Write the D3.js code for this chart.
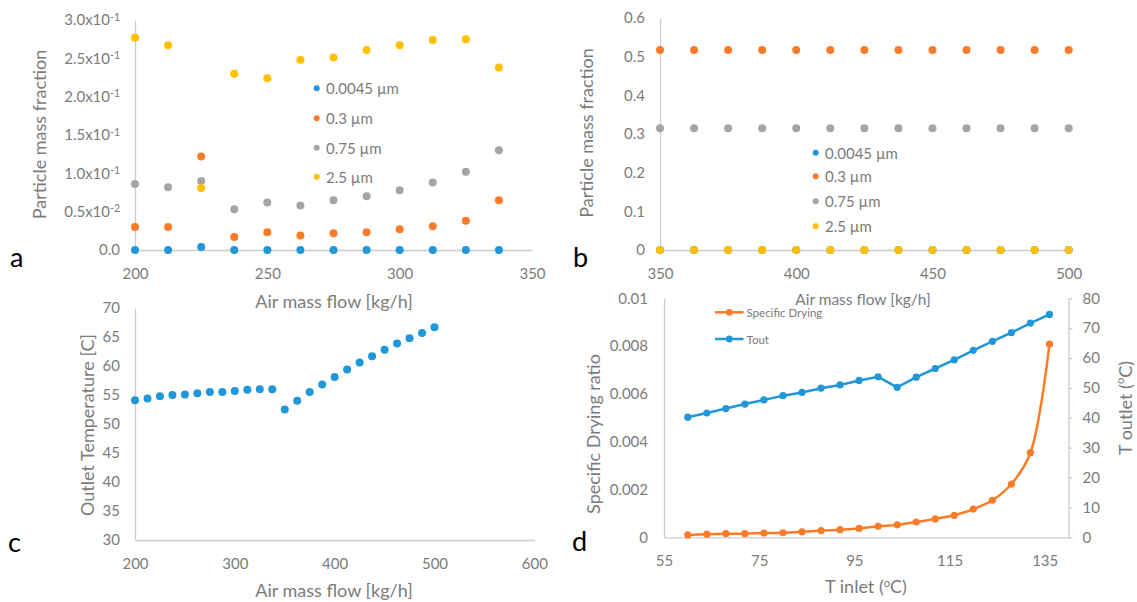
<!DOCTYPE html>
<html>
<head>
<meta charset="utf-8">
<script src="https://cdn.jsdelivr.net/npm/d3@7"></script>
<style>
  html, body { margin: 0; padding: 0; background: #ffffff; }
  svg { display: block; }
  text { font-family: Lato, "Open Sans", sans-serif; }
</style>
</head>
<body>
<svg id="chart" width="1137" height="602"></svg>
<script>
// ---------------- DATA ----------------
// Panel a
const aX = [200, 212.5, 225, 237.5, 250, 262.5, 275, 287.5, 300, 312.5, 325, 337.5];
const aBlue   = [0, 0, 0.004, 0, 0, 0, 0, 0, 0, 0, 0, 0];
const aOrange = [0.030, 0.030, 0.122, 0.017, 0.023, 0.019, 0.022, 0.023, 0.027, 0.031, 0.038, 0.065];
const aGrey   = [0.086, 0.082, 0.090, 0.053, 0.062, 0.058, 0.065, 0.070, 0.078, 0.088, 0.102, 0.130];
const aYellow = [0.277, 0.267, 0.081, 0.230, 0.224, 0.248, 0.251, 0.261, 0.267, 0.274, 0.275, 0.238];
const aXTicks = [200, 250, 300, 350];
const aYTicks = [0, 0.05, 0.10, 0.15, 0.20, 0.25, 0.30];
const aYTickLabels = ["0.0", "0.5x10^-2", "1.0x10^-1", "1.5x10^-1", "2.0x10^-1", "2.5x10^-1", "3.0x10^-1"];

// Panel b
const bX = [350, 362.5, 375, 387.5, 400, 412.5, 425, 437.5, 450, 462.5, 475, 487.5, 500];
const bBlue   = [0, 0, 0, 0, 0, 0, 0, 0, 0, 0, 0, 0, 0];
const bOrange = [0.517, 0.517, 0.517, 0.517, 0.517, 0.517, 0.517, 0.517, 0.517, 0.517, 0.517, 0.517, 0.517];
const bGrey   = [0.315, 0.315, 0.315, 0.315, 0.315, 0.315, 0.315, 0.315, 0.315, 0.315, 0.315, 0.315, 0.315];
const bYellow = [0, 0, 0, 0, 0, 0, 0, 0, 0, 0, 0, 0, 0];
const bXTicks = [350, 400, 450, 500];
const bYTicks = [0, 0.1, 0.2, 0.3, 0.4, 0.5, 0.6];

const sizeNames = ["0.0045 µm", "0.3 µm", "0.75 µm", "2.5 µm"];

// Panel c
const cX = [200, 212.5, 225, 237.5, 250, 262.5, 275, 287.5, 300, 312.5, 325, 337.5,
            350, 362.5, 375, 387.5, 400, 412.5, 425, 437.5, 450, 462.5, 475, 487.5, 500];
const cT = [54.1, 54.4, 54.8, 55.0, 55.1, 55.3, 55.5, 55.5, 55.7, 55.9, 56.0, 56.0,
            52.5, 54.0, 55.5, 56.8, 58.1, 59.4, 60.6, 61.7, 62.8, 63.9, 64.8, 65.7, 66.7];
const cXTicks = [200, 300, 400, 500, 600];
const cYTicks = [30, 35, 40, 45, 50, 55, 60, 65, 70];

// Panel d
const dX = [60, 64, 68, 72, 76, 80, 84, 88, 92, 96, 100, 104, 108, 112, 116, 120, 124, 128, 132, 136];
const dSpec = [0.00010, 0.00013, 0.00015, 0.00015, 0.00018, 0.00019, 0.00023, 0.00028, 0.00032, 0.00037,
               0.00046, 0.00052, 0.00064, 0.00077, 0.00092, 0.00118, 0.00155, 0.00223, 0.00354, 0.00808];
const dTout = [40.2, 41.6, 43.1, 44.6, 46.0, 47.4, 48.5, 49.9, 51.0, 52.5,
               53.7, 50.2, 53.6, 56.5, 59.4, 62.6, 65.6, 68.5, 71.7, 74.6];
const dXTicks = [55, 75, 95, 115, 135];
const dYLTicks = [0, 0.002, 0.004, 0.006, 0.008, 0.01];
const dYRTicks = [0, 10, 20, 30, 40, 50, 60, 70, 80];
const dSeriesNames = ["Specific Drying", "Tout"];

// ---------------- STYLE ----------------
const COL = { blue: "#1f97d9", orange: "#fb7b29", grey: "#a5a5a5", yellow: "#ffc000" };
const TXT = "#7b7b7b";
const AXC = "#cccccc";
const TICK_FS = 15;

const svg = d3.select("#chart");

function styleAxis(g) {
  g.select(".domain").attr("stroke", AXC).attr("stroke-width", 1.3);
  g.selectAll(".tick line").attr("stroke", AXC).attr("stroke-width", 1.3);
  g.selectAll(".tick text").attr("fill", TXT).attr("font-size", TICK_FS)
    .attr("font-family", "Lato, 'Open Sans', sans-serif");
}

function xTitle(text, cx, baseline, fs) {
  return svg.append("text").attr("x", cx).attr("y", baseline).attr("text-anchor", "middle")
    .attr("fill", TXT).attr("font-size", fs).text(text);
}
function yTitle(text, cx, cy, fs) {
  return svg.append("text").attr("transform", `translate(${cx},${cy}) rotate(-90)`)
    .attr("text-anchor", "middle").attr("dominant-baseline", "central")
    .attr("fill", TXT).attr("font-size", fs).text(text);
}
function panelLetter(t, x, baseline) {
  svg.append("text").attr("x", x).attr("y", baseline).attr("fill", "#000")
    .attr("font-size", 27).text(t);
}
function addDegree(sel, before, after) {
  sel.text(null);
  sel.append("tspan").text(before);
  sel.append("tspan").attr("font-size", "0.62em").attr("dy", "-0.5em").text("o");
  sel.append("tspan").attr("dy", "0.31em").text(after);
}

// ---------------- PANEL A ----------------
{
  const x = d3.scaleLinear().domain([200, 350]).range([135, 532]);
  const y = d3.scaleLinear().domain([0, 0.3]).range([250, 20]);
  const gx = svg.append("g").attr("transform", `translate(0,${y(0)})`)
    .call(d3.axisBottom(x).tickValues(aXTicks).tickSize(0).tickPadding(18).tickFormat(d3.format("d")));
  styleAxis(gx);
  const gy = svg.append("g").attr("transform", `translate(${x(200)},0)`)
    .call(d3.axisLeft(y).tickValues(aYTicks).tickSize(0).tickPadding(15));
  styleAxis(gy);
  gy.selectAll(".tick text").each(function(d, i) {
    const lab = aYTickLabels[i];
    const t = d3.select(this).text(null);
    const parts = lab.split("^");
    t.append("tspan").text(parts[0]);
    if (parts[1]) {
      t.append("tspan").attr("font-size", "0.7em").attr("dy", "-0.45em").text(parts[1]);
    }
  });
  const series = [[aBlue, COL.blue], [aOrange, COL.orange], [aGrey, COL.grey], [aYellow, COL.yellow]];
  series.forEach(([vals, c]) => {
    svg.append("g").selectAll("circle").data(vals).join("circle")
      .attr("cx", (d, i) => x(aX[i])).attr("cy", d => y(d)).attr("r", 4).attr("fill", c);
  });
  // legend
  const lg = svg.append("g");
  const lgY = [88.3, 118.3, 147.7, 176.7];
  series.forEach(([vals, c], i) => {
    lg.append("circle").attr("cx", 316.7).attr("cy", lgY[i]).attr("r", 3).attr("fill", c);
    lg.append("text").attr("x", 326).attr("y", lgY[i]).attr("dominant-baseline", "central")
      .attr("fill", TXT).attr("font-size", 15).text(sizeNames[i]);
  });
  xTitle("Air mass flow [kg/h]", 334, 308, 18);
  yTitle("Particle mass fraction", 39, 134.5, 18);
  panelLetter("a", 10, 266.7);
}

// ---------------- PANEL B ----------------
{
  const x = d3.scaleLinear().domain([350, 500]).range([660, 1068.7]);
  const y = d3.scaleLinear().domain([0, 0.6]).range([250, 18]);
  const gx = svg.append("g").attr("transform", `translate(0,${y(0)})`)
    .call(d3.axisBottom(x).tickValues(bXTicks).tickSize(0).tickPadding(18).tickFormat(d3.format("d")));
  styleAxis(gx);
  const gy = svg.append("g").attr("transform", `translate(${x(350)},0)`)
    .call(d3.axisLeft(y).tickValues(bYTicks).tickSize(0).tickPadding(15).tickFormat(d => String(d)));
  styleAxis(gy);
  const series = [[bBlue, COL.blue], [bOrange, COL.orange], [bGrey, COL.grey], [bYellow, COL.yellow]];
  series.forEach(([vals, c]) => {
    svg.append("g").selectAll("circle").data(vals).join("circle")
      .attr("cx", (d, i) => x(bX[i])).attr("cy", d => y(d)).attr("r", 4).attr("fill", c);
  });
  const lgY = [152.7, 176.3, 201.3, 226.3];
  series.forEach(([vals, c], i) => {
    svg.append("circle").attr("cx", 815.7).attr("cy", lgY[i]).attr("r", 3).attr("fill", c);
    svg.append("text").attr("x", 825).attr("y", lgY[i]).attr("dominant-baseline", "central")
      .attr("fill", TXT).attr("font-size", 15).text(sizeNames[i]);
  });
  xTitle("Air mass flow [kg/h]", 863, 305, 15.5);
  yTitle("Particle mass fraction", 586, 133, 18);
  panelLetter("b", 573, 266.7);
}

// ---------------- PANEL C ----------------
{
  const x = d3.scaleLinear().domain([200, 600]).range([135, 534.3]);
  const y = d3.scaleLinear().domain([30, 70]).range([540, 308]);
  const gx = svg.append("g").attr("transform", `translate(0,${y(30)})`)
    .call(d3.axisBottom(x).tickValues(cXTicks).tickSize(0).tickPadding(18).tickFormat(d3.format("d")));
  styleAxis(gx);
  const gy = svg.append("g").attr("transform", `translate(${x(200)},0)`)
    .call(d3.axisLeft(y).tickValues(cYTicks).tickSize(0).tickPadding(15).tickFormat(d3.format("d")));
  styleAxis(gy);
  svg.append("g").selectAll("circle").data(cT).join("circle")
    .attr("cx", (d, i) => x(cX[i])).attr("cy", d => y(d)).attr("r", 4).attr("fill", COL.blue);
  xTitle("Air mass flow [kg/h]", 334, 596.7, 18);
  yTitle("Outlet Temperature [C]", 87, 425, 18);
  panelLetter("c", 8, 551.7);
}

// ---------------- PANEL D ----------------
{
  const x = d3.scaleLinear().domain([55, 140]).range([664, 1068.5]);
  const yL = d3.scaleLinear().domain([0, 0.01]).range([537.3, 298.3]);
  const yR = d3.scaleLinear().domain([0, 80]).range([537.3, 298.3]);
  const gx = svg.append("g").attr("transform", `translate(0,${yL(0)})`)
    .call(d3.axisBottom(x).tickValues(dXTicks).tickSize(0).tickPadding(18).tickFormat(d3.format("d")));
  styleAxis(gx);
  const gyl = svg.append("g").attr("transform", `translate(${x(55)},0)`)
    .call(d3.axisLeft(yL).tickValues(dYLTicks).tickSize(0).tickPadding(16).tickFormat(d => String(d)));
  styleAxis(gyl);
  const gyr = svg.append("g").attr("transform", `translate(${x(140)},0)`)
    .call(d3.axisRight(yR).tickValues(dYRTicks).tickSizeInner(4).tickSizeOuter(0).tickPadding(10).tickFormat(d3.format("d")));
  styleAxis(gyr);

  const lineT = d3.line().x((d, i) => x(dX[i])).y(d => yR(d));
  const lineS = d3.line().x((d, i) => x(dX[i])).y(d => yL(d)).curve(d3.curveCatmullRom.alpha(0.5));

  svg.append("path").datum(dTout).attr("d", lineT).attr("fill", "none")
    .attr("stroke", COL.blue).attr("stroke-width", 2.5);
  svg.append("g").selectAll("circle").data(dTout).join("circle")
    .attr("cx", (d, i) => x(dX[i])).attr("cy", d => yR(d)).attr("r", 3.6).attr("fill", COL.blue);

  svg.append("path").datum(dSpec).attr("d", lineS).attr("fill", "none")
    .attr("stroke", COL.orange).attr("stroke-width", 2.5);
  svg.append("g").selectAll("circle").data(dSpec).join("circle")
    .attr("cx", (d, i) => x(dX[i])).attr("cy", d => yL(d)).attr("r", 3.6).attr("fill", COL.orange);

  // legend
  const lg = [[COL.orange, 312.3], [COL.blue, 339]];
  lg.forEach(([c, ly], i) => {
    svg.append("line").attr("x1", 715).attr("x2", 743.5).attr("y1", ly).attr("y2", ly)
      .attr("stroke", c).attr("stroke-width", 2.5);
    svg.append("circle").attr("cx", 729.3).attr("cy", ly).attr("r", 3.4).attr("fill", c);
    svg.append("text").attr("x", 746.5).attr("y", ly).attr("dominant-baseline", "central")
      .attr("fill", TXT).attr("font-size", 11.5).text(dSeriesNames[i]);
  });

  const xt = xTitle("", 866, 593, 18);
  addDegree(xt, "T inlet (", "C)");
  yTitle("Specific Drying ratio", 592.7, 434, 18);
  const yr = yTitle("", 1125, 408, 18);
  addDegree(yr, "T outlet (", "C)");
  panelLetter("d", 572, 550.7);
}
</script>
</body>
</html>
